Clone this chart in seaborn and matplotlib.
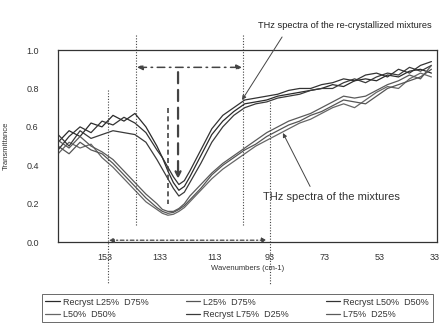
import matplotlib
matplotlib.use("Agg")
import matplotlib.pyplot as plt
import seaborn as sns
import pandas as pd

wavenumber = [170, 166, 162, 158, 154, 150, 146, 142, 138, 134, 132, 130, 128, 126, 124, 122,
              118, 114, 110, 106, 102, 98, 94, 90, 86, 82, 78, 74, 70, 66, 62, 58, 54,
              50, 46, 42, 38, 34]

recryst_l25 = [0.52, 0.58, 0.55, 0.62, 0.60, 0.66, 0.63, 0.67, 0.60, 0.50, 0.44, 0.37, 0.31, 0.27, 0.29,
               0.34, 0.45, 0.56, 0.63, 0.68, 0.72, 0.73, 0.74, 0.76, 0.77, 0.78, 0.79, 0.80, 0.82,
               0.81, 0.84, 0.85, 0.84, 0.87, 0.86, 0.89, 0.90, 0.88]
recryst_l50 = [0.48, 0.55, 0.60, 0.57, 0.63, 0.61, 0.65, 0.62, 0.57, 0.48, 0.44, 0.39, 0.34, 0.30, 0.32,
               0.37, 0.48, 0.59, 0.66, 0.70, 0.74, 0.75, 0.76, 0.77, 0.79, 0.80, 0.80, 0.82, 0.83,
               0.85, 0.84, 0.87, 0.88, 0.86, 0.90, 0.88, 0.92, 0.94]
recryst_l75 = [0.56, 0.50, 0.58, 0.54, 0.56, 0.58, 0.57, 0.56, 0.52, 0.43, 0.38, 0.33, 0.28, 0.24, 0.26,
               0.31, 0.41, 0.52, 0.60, 0.66, 0.70, 0.72, 0.73, 0.75, 0.76, 0.77, 0.79, 0.80, 0.80,
               0.83, 0.85, 0.83, 0.86, 0.88, 0.87, 0.91, 0.89, 0.92]
mix_l25 = [0.50, 0.46, 0.52, 0.48, 0.46, 0.41, 0.35, 0.29, 0.23, 0.18, 0.16, 0.15, 0.155, 0.17, 0.19,
           0.22, 0.28, 0.35, 0.40, 0.44, 0.48, 0.51, 0.55, 0.58, 0.61, 0.63, 0.66, 0.68, 0.71,
           0.74, 0.73, 0.72, 0.76, 0.80, 0.82, 0.84, 0.86, 0.90]
mix_l50 = [0.46, 0.52, 0.49, 0.51, 0.44, 0.39, 0.33, 0.27, 0.21, 0.17, 0.15, 0.14, 0.145, 0.16, 0.18,
           0.21, 0.27, 0.33, 0.38, 0.42, 0.46, 0.50, 0.53, 0.56, 0.59, 0.62, 0.64, 0.67, 0.70,
           0.72, 0.70, 0.74, 0.78, 0.81, 0.80, 0.85, 0.88, 0.86]
mix_l75 = [0.53, 0.49, 0.55, 0.50, 0.47, 0.43, 0.37, 0.31, 0.25, 0.20, 0.17, 0.16, 0.16, 0.175, 0.20,
           0.24, 0.30, 0.36, 0.41, 0.45, 0.49, 0.53, 0.57, 0.60, 0.63, 0.65, 0.67, 0.70, 0.73,
           0.76, 0.75, 0.76, 0.79, 0.82, 0.84, 0.87, 0.85, 0.92]

series_labels = ["Recryst L25%  D75%", "L25%  D75%", "Recryst L50%  D50%",
                 "L50%  D50%", "Recryst L75%  D25%", "L75%  D25%"]
series_values = [recryst_l25, mix_l25, recryst_l50, mix_l50, recryst_l75, mix_l75]
series_colors = ["#2a2a2a", "#555555", "#333333", "#666666", "#3a3a3a", "#5a5a5a"]

x_ticks = [153, 133, 113, 93, 73, 53, 33]
y_ticks = [0.0, 0.2, 0.4, 0.6, 0.8, 1.0]
y_ticklabels = ["0.0", "0.2", "0.4", "0.6", "0.8", "1.0"]

rows = []
for lab, vals in zip(series_labels, series_values):
    for w, v in zip(wavenumber, vals):
        rows.append({"Wavenumber": w, "Transmittance": v, "Series": lab})
df = pd.DataFrame(rows)

sns.set_theme(style="white")
plt.rcParams["font.family"] = ["Liberation Sans", "DejaVu Sans"]

fig = plt.figure(figsize=(4.4, 3.25), dpi=100)
ax = fig.add_axes([0.132, 0.255, 0.861, 0.591])

# legend fills column-wise, so order hue to read row-wise like the reference
hue_order = [series_labels[i] for i in [0, 3, 1, 4, 2, 5]]
palette = {lab: c for lab, c in zip(series_labels, series_colors)}
sns.lineplot(data=df, x="Wavenumber", y="Transmittance", hue="Series",
             hue_order=hue_order, palette=palette, linewidth=0.9, ax=ax,
             sort=False, estimator=None)

ax.set_xlim(170, 32)
ax.set_ylim(0, 1.0)
ax.set_xticks(x_ticks)
ax.set_xticklabels([str(t) for t in x_ticks], fontsize=6.5, color="#333333")
ax.set_yticks(y_ticks)
ax.set_yticklabels(y_ticklabels, fontsize=6.5, color="#333333")
ax.tick_params(axis="x", direction="in", length=2, width=0.6, color="#555555", pad=8)
ax.tick_params(axis="y", length=0, pad=14)
for s in ax.spines.values():
    s.set_color("#333333")
    s.set_linewidth(0.9)
ax.set_xlabel("Wavenumbers (cm-1)", fontsize=5.5, color="#333333", labelpad=2)
ax.set_ylabel("Transmittance", fontsize=5.5, color="#333333", labelpad=12)

leg = ax.legend(loc="lower left", bbox_to_anchor=(0.095, 0.008, 0.888, 0.098),
                bbox_transform=fig.transFigure, mode="expand", ncol=3, fontsize=6.5,
                frameon=True, fancybox=False, handlelength=1.6, handletextpad=0.3,
                columnspacing=0.6, labelspacing=0.35, borderpad=0.4, borderaxespad=0)
leg.get_frame().set_edgecolor("#444444")
leg.get_frame().set_linewidth(0.7)
for t in leg.get_texts():
    t.set_color("#333333")

dot = dict(color="#444444", linestyle=(0, (1, 1.5)), linewidth=0.8, clip_on=False)
ax.plot([151.8, 151.8], [0.79, -0.22], **dot)
ax.plot([141.6, 141.6], [1.08, 0.09], **dot)
ax.plot([102.6, 102.6], [1.08, 0.09], **dot)
ax.plot([92.8, 92.8], [0.73, -0.22], **dot)
ax.plot([130.0, 130.0], [0.70, 0.20], color="#444444", linestyle=(0, (3, 2)), linewidth=1.2)

ax.annotate("", xy=(103, 0.91), xytext=(141.2, 0.91),
            arrowprops=dict(arrowstyle="<|-|>", color="#444444", lw=1.1,
                            linestyle=(0, (5, 3, 1, 3)), mutation_scale=8, shrinkA=0, shrinkB=0))
ax.annotate("", xy=(126.3, 0.33), xytext=(126.3, 0.885),
            arrowprops=dict(arrowstyle="-|>", color="#444444", lw=1.6,
                            linestyle=(0, (5, 3)), mutation_scale=9, shrinkA=0, shrinkB=0))
ax.annotate("", xy=(94, 0.01), xytext=(151.5, 0.01), annotation_clip=False,
            arrowprops=dict(arrowstyle="<|-|>", color="#444444", lw=0.9,
                            linestyle=(0, (3, 2, 1, 2)), mutation_scale=7, shrinkA=0, shrinkB=0))

ax.text(65.5, 1.13, "THz spectra of the re-crystallized mixtures", fontsize=6.7,
        ha="center", va="center", color="#222222", clip_on=False)
ax.annotate("", xy=(103, 0.74), xytext=(88.4, 1.068), annotation_clip=False,
            arrowprops=dict(arrowstyle="-|>", color="#444444", lw=0.7,
                            mutation_scale=6, shrinkA=0, shrinkB=0))
ax.text(70.6, 0.234, "THz spectra of the mixtures", fontsize=8,
        ha="center", va="center", color="#333333")
ax.annotate("", xy=(88.1, 0.568), xytext=(78.2, 0.29),
            arrowprops=dict(arrowstyle="-|>", color="#444444", lw=0.7,
                            mutation_scale=6, shrinkA=0, shrinkB=0))

fig.savefig("out.png", dpi=100)
